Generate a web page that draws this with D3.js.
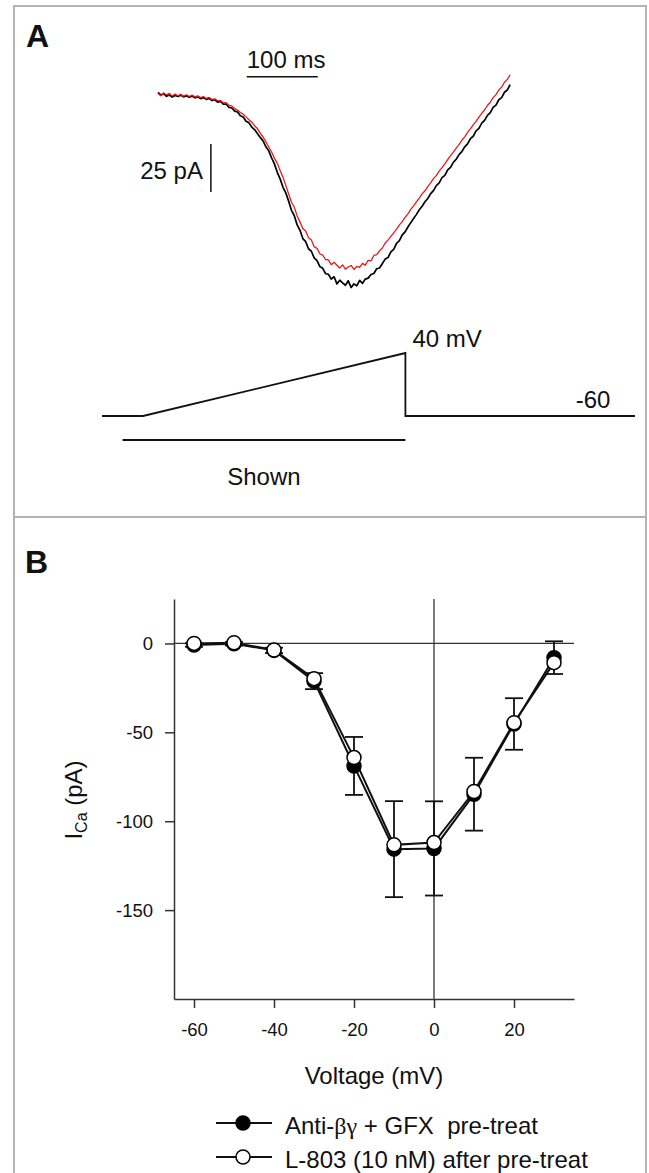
<!DOCTYPE html>
<html>
<head>
<meta charset="utf-8">
<script src="https://cdn.jsdelivr.net/npm/d3@7"></script>
<style>
  body { margin: 0; background: #fff; }
  text { font-family: "Liberation Sans", Arial, sans-serif; fill: #111; }
</style>
</head>
<body>
<div id="chart"></div>
<script>
// ---- panel A: ramp currents, one sample every 4 ms (pA) ----
const sampleMs = 4;
const tracePretreat = [
  0.8, -0.6, 0.2, -1.2, -0.5, -1.6, -0.8, -1.3, -0.6, -1.5,
  -0.9, -1.7, -1.1, -2.0, -1.4, -2.4, -1.9, -2.8, -2.3, -3.4,
  -3.0, -4.2, -3.9, -5.3, -5.2, -7.0, -7.3, -8.9, -9.4, -11.3,
  -12.0, -14.2, -14.9, -17.2, -18.5, -20.6, -22.6, -24.4, -27.5, -29.6,
  -33.3, -36.4, -40.8, -44.2, -48.6, -51.5, -55.8, -60.6, -63.4, -68.2,
  -71.0, -75.3, -76.9, -80.6, -81.9, -85.4, -86.8, -89.9, -90.8, -93.6,
  -93.9, -96.4, -95.2, -98.9, -97.0, -98.4, -99.6, -97.3, -100.8, -98.9,
  -99.9, -97.1, -98.6, -96.4, -95.9, -94.0, -93.5, -91.0, -90.6, -88.3,
  -86.0, -85.2, -82.2, -80.9, -77.8, -76.4, -73.4, -71.8, -69.3, -67.0,
  -64.9, -62.7, -60.3, -58.5, -56.1, -54.4, -51.9, -50.3, -47.7, -46.3,
  -43.6, -42.4, -39.5, -38.2, -35.6, -34.0, -31.6, -30.0, -27.5, -26.0,
  -23.3, -22.0, -19.2, -17.9, -15.2, -13.7, -11.1, -9.7, -7.0, -5.8,
  -3.0, -1.9, 0.9, 2.1, 4.9
];
const traceL803 = [
  0.3, -0.9, 0.5, -0.4, 0.3, -1.0, 0.0, -0.9, -0.2, -1.1,
  -0.4, -1.3, -0.6, -1.5, -1.0, -1.9, -1.3, -2.3, -1.8, -2.8,
  -2.5, -3.5, -3.4, -4.6, -4.5, -5.9, -6.2, -7.6, -8.4, -9.6,
  -10.5, -11.9, -13.4, -14.6, -16.5, -18.0, -20.4, -22.4, -24.9, -27.6,
  -30.2, -33.5, -36.0, -39.8, -43.3, -47.6, -52.0, -56.4, -59.0, -63.5,
  -66.6, -70.1, -71.4, -74.9, -76.1, -79.5, -80.4, -83.2, -83.9, -86.2,
  -86.4, -88.9, -87.6, -89.2, -90.6, -89.0, -91.2, -90.1, -89.3, -91.4,
  -89.8, -90.3, -88.2, -89.1, -86.6, -86.9, -84.1, -83.7, -81.7, -80.2,
  -77.6, -76.1, -74.2, -72.3, -70.4, -68.2, -66.5, -64.3, -62.4, -60.1,
  -58.3, -56.2, -54.3, -52.0, -50.4, -48.2, -46.3, -44.1, -42.5, -40.2,
  -38.3, -36.4, -34.2, -32.1, -30.3, -28.2, -26.4, -24.1, -22.3, -20.0,
  -18.2, -16.1, -14.3, -12.0, -10.1, -8.2, -6.0, -4.3, -1.9, -0.3,
  2.1, 3.6, 6.1, 7.6, 10.0
];
const timeBar = [125, 225];     // ms
const currentBar = [-26, -51];  // pA

// voltage protocol
const protoTime = [0, 50, 370, 370, 650];
const protoVolt = [-60, -60, 40, -60, -60];
const shownWindow = [25, 370];

// ---- panel B: I-V relation ----
const voltages = [-60, -50, -40, -30, -20, -10, 0, 10, 20, 30];
const pretreatMean = [-0.9, -0.2, -3.9, -21.2, -68.9, -115.7, -115.3, -84.8, -45.3, -8.0];
const pretreatSem = [1.0, 1.0, 1.5, 4.5, 16.3, 27.0, 26.5, 20.5, 14.5, 9.2];
const l803Mean = [0.0, 0.4, -3.7, -19.8, -64.2, -113.3, -112.0, -83.3, -44.6, -10.8];
const xTicks = [-60, -40, -20, 0, 20];
const yTicks = [0, -50, -100, -150];

const W = 649, H = 1173;
const svg = d3.select('#chart').append('svg')
  .attr('width', W)
  .attr('height', H);

// frame
svg.append('path')
  .attr('d', `M14,${H + 5}V6H646V${H + 5}M14,517H646`)
  .attr('fill', 'none')
  .attr('stroke', '#b3b3b3')
  .attr('stroke-width', 2);

svg.append('text').attr('x', 26).attr('y', 47)
  .style('font-size', '32px').style('font-weight', 'bold').text('A');
svg.append('text').attr('x', 25).attr('y', 573)
  .style('font-size', '32px').style('font-weight', 'bold').text('B');

// ---- panel A ----
const xT = d3.scaleLinear().domain([0, 500]).range([158, 513]);
const yI = d3.scaleLinear().domain([0, -100]).range([94, 286]);

const traceLine = d3.line()
  .x((d, i) => xT(i * sampleMs))
  .y(d => yI(d));

svg.append('path')
  .datum(tracePretreat)
  .attr('fill', 'none')
  .attr('stroke', '#000')
  .attr('stroke-width', 1.7)
  .attr('stroke-linejoin', 'round')
  .attr('d', traceLine);

svg.append('path')
  .datum(traceL803)
  .attr('fill', 'none')
  .attr('stroke', '#e8191b')
  .attr('stroke-width', 1.3)
  .attr('stroke-linejoin', 'round')
  .attr('d', traceLine);

// scale bars
svg.append('line')
  .attr('x1', xT(timeBar[0])).attr('x2', xT(timeBar[1]))
  .attr('y1', yI(9)).attr('y2', yI(9))
  .attr('stroke', '#111').attr('stroke-width', 1.5);
svg.append('text')
  .attr('x', xT(timeBar[0])).attr('y', 68)
  .style('font-size', '24px').text('100 ms');

const barT = 74.5;
svg.append('line')
  .attr('x1', xT(barT)).attr('x2', xT(barT))
  .attr('y1', yI(currentBar[0])).attr('y2', yI(currentBar[1]))
  .attr('stroke', '#111').attr('stroke-width', 1.5);
svg.append('text')
  .attr('x', xT(barT) - 8).attr('y', 179)
  .attr('text-anchor', 'end')
  .style('font-size', '24px').text('25 pA');

// protocol
const xP = d3.scaleLinear().domain([0, 650]).range([102, 635]);
const yV = d3.scaleLinear().domain([-60, 40]).range([416, 353]);

svg.append('path')
  .datum(d3.zip(protoTime, protoVolt))
  .attr('fill', 'none')
  .attr('stroke', '#111')
  .attr('stroke-width', 1.8)
  .attr('d', d3.line().x(d => xP(d[0])).y(d => yV(d[1])));

svg.append('line')
  .attr('x1', xP(shownWindow[0])).attr('x2', xP(shownWindow[1]))
  .attr('y1', yV(-60) + 24).attr('y2', yV(-60) + 24)
  .attr('stroke', '#111').attr('stroke-width', 2);

svg.append('text')
  .attr('x', xP(370) + 7).attr('y', yV(40) - 6)
  .style('font-size', '24px').text('40 mV');
svg.append('text')
  .attr('x', xP(620)).attr('y', yV(-60) - 8)
  .attr('text-anchor', 'end')
  .style('font-size', '24px').text('-60');
svg.append('text')
  .attr('x', xP((shownWindow[0] + shownWindow[1]) / 2)).attr('y', 485)
  .attr('text-anchor', 'middle')
  .style('font-size', '24px').text('Shown');

// ---- panel B ----
const xV = d3.scaleLinear().domain([-65, 35]).range([174, 574]);
const yC = d3.scaleLinear().domain([-200, 25]).range([999, 599]);

const plain = d => String(d);   // hyphen minus, as in the original figure
const gy = svg.append('g')
  .attr('transform', `translate(${xV(-65)},0)`)
  .call(d3.axisLeft(yC).tickValues(yTicks).tickFormat(plain)
    .tickSize(9).tickSizeOuter(0).tickPadding(12));
const gx = svg.append('g')
  .attr('transform', `translate(0,${yC(-200)})`)
  .call(d3.axisBottom(xV).tickValues(xTicks).tickFormat(plain)
    .tickSize(9).tickSizeOuter(0).tickPadding(15));

[gx, gy].forEach(g => {
  g.selectAll('path, line').attr('stroke', '#333').attr('stroke-width', 1.5);
  g.selectAll('text')
    .style('font-family', '"Liberation Sans", Arial, sans-serif')
    .style('font-size', '18.5px').attr('fill', '#111');
});

// zero lines
svg.append('line')
  .attr('x1', xV(-65)).attr('x2', xV(35))
  .attr('y1', yC(0)).attr('y2', yC(0))
  .attr('stroke', '#333').attr('stroke-width', 1.3);
svg.append('line')
  .attr('x1', xV(0)).attr('x2', xV(0))
  .attr('y1', yC(25)).attr('y2', yC(-200))
  .attr('stroke', '#333').attr('stroke-width', 1.3);

// axis titles
svg.append('text')
  .attr('x', xV(-15)).attr('y', 1084)
  .attr('text-anchor', 'middle')
  .style('font-size', '24px').text('Voltage (mV)');

const yt = svg.append('text')
  .attr('transform', 'translate(82,800) rotate(-90)')
  .attr('text-anchor', 'middle')
  .style('font-size', '24px');
yt.append('tspan').text('I');
yt.append('tspan').attr('dy', 5).style('font-size', '16px').text('Ca');
yt.append('tspan').attr('dy', -5).text(' (pA)');

// error bars
const cap = 9;
const errs = svg.append('g').attr('stroke', '#111').attr('stroke-width', 1.8);
voltages.forEach((v, i) => {
  const x = xV(v);
  const lo = yC(pretreatMean[i] - pretreatSem[i]);
  const hi = yC(pretreatMean[i] + pretreatSem[i]);
  errs.append('line').attr('x1', x).attr('x2', x).attr('y1', lo).attr('y2', hi);
  errs.append('line').attr('x1', x - cap).attr('x2', x + cap).attr('y1', lo).attr('y2', lo);
  errs.append('line').attr('x1', x - cap).attr('x2', x + cap).attr('y1', hi).attr('y2', hi);
});

const ivLine = d3.line().x(d => xV(d[0])).y(d => yC(d[1]));
[pretreatMean, l803Mean].forEach(series => {
  svg.append('path')
    .datum(d3.zip(voltages, series))
    .attr('fill', 'none')
    .attr('stroke', '#111')
    .attr('stroke-width', 2)
    .attr('d', ivLine);
});

svg.append('g').selectAll('circle')
  .data(d3.zip(voltages, pretreatMean))
  .join('circle')
  .attr('cx', d => xV(d[0])).attr('cy', d => yC(d[1]))
  .attr('r', 7).attr('fill', '#000').attr('stroke', '#000').attr('stroke-width', 1.5);

svg.append('g').selectAll('circle')
  .data(d3.zip(voltages, l803Mean))
  .join('circle')
  .attr('cx', d => xV(d[0])).attr('cy', d => yC(d[1]))
  .attr('r', 7).attr('fill', '#fff').attr('stroke', '#000').attr('stroke-width', 1.5);

// legend
const legend = [
  { fill: '#000', y: 1123, label: null },
  { fill: '#fff', y: 1157, label: 'L-803 (10 nM) after pre-treat' }
];
legend.forEach(d => {
  svg.append('line')
    .attr('x1', 216).attr('x2', 272).attr('y1', d.y).attr('y2', d.y)
    .attr('stroke', '#111').attr('stroke-width', 2);
  svg.append('circle')
    .attr('cx', 243).attr('cy', d.y).attr('r', 7)
    .attr('fill', d.fill).attr('stroke', '#000').attr('stroke-width', 1.5);
});
const l1 = svg.append('text')
  .attr('x', 285).attr('y', 1134)
  .style('font-size', '24px').style('white-space', 'pre');
l1.append('tspan').text('Anti-');
l1.append('tspan').style('font-family', '"Liberation Serif", "DejaVu Serif", serif').text('βγ');
l1.append('tspan').text(' + GFX  pre-treat');
svg.append('text')
  .attr('x', 285).attr('y', 1168)
  .style('font-size', '24px').text(legend[1].label);
</script>
</body>
</html>
